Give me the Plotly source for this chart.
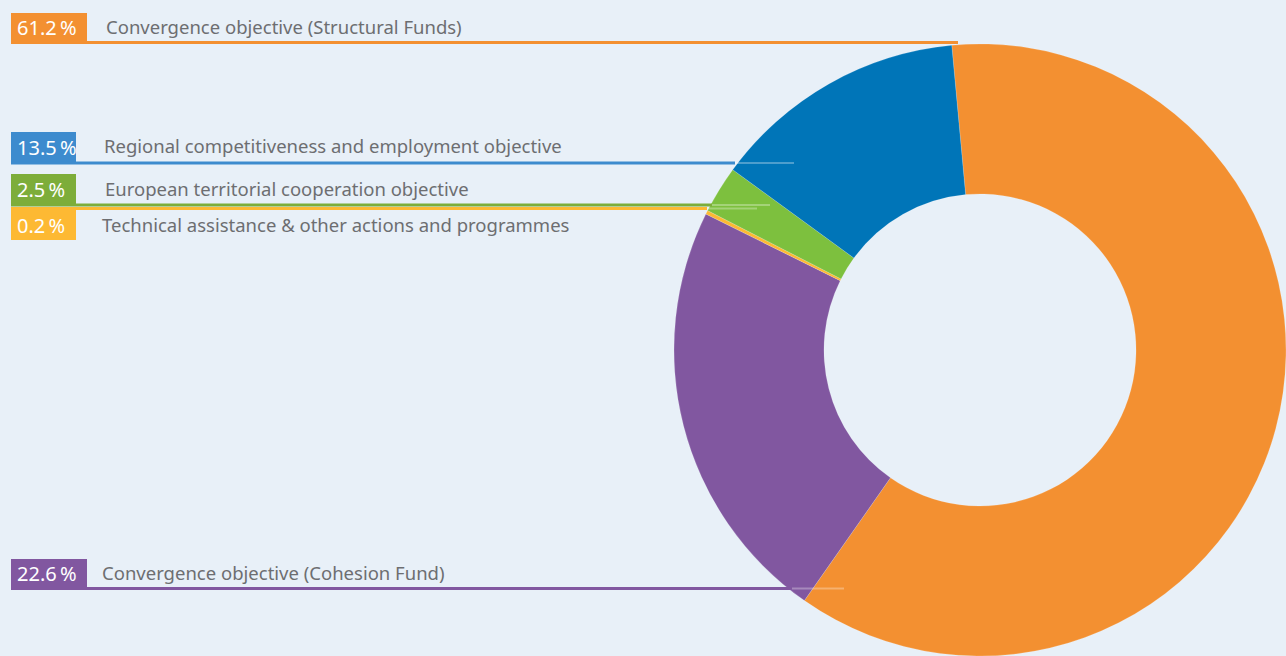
import plotly.graph_objects as go

# ---- data (slice order, clockwise from top) ----
categories = [
    "Convergence objective (Structural Funds)",
    "Convergence objective (Cohesion Fund)",
    "Technical assistance & other actions and programmes",
    "European territorial cooperation objective",
    "Regional competitiveness and employment objective",
]
shares = [61.2, 22.6, 0.2, 2.5, 13.5]
pct_labels = ["61.2\u2009%", "22.6\u2009%", "0.2\u2009%", "2.5\u2009%", "13.5\u2009%"]
slice_colors = ["#F39031", "#8157A0", "#FDB933", "#7DC03E", "#0075B8"]
box_colors = ["#F39031", "#8157A0", "#FDB933", "#7DAD3A", "#3D8BCE"]

# ---- label layout (pixels) ----
W, H = 1286, 656
# per slice: box top, box bottom, box right, text x, line y, opaque end, faint end
label_layout = [
    (13, 42, 87, 106, 42.5, 958, 958),
    (559, 587, 87, 102, 588.5, 792, 844),
    (210, 240, 76, 102, 208.5, 707, 757),
    (174, 204, 76, 105, 205, 712, 770),
    (132, 162, 76, 104, 163, 735, 794),
]

BG = "#E8F0F8"
TXT = "#6D6E71"

fig = go.Figure()
fig.add_trace(go.Pie(
    labels=categories,
    values=shares,
    sort=False,
    direction="clockwise",
    rotation=-5.3,
    hole=0.51,
    marker=dict(colors=slice_colors, line=dict(color="rgba(255,255,255,0.25)", width=0.6)),
    textinfo="none",
    hoverinfo="label+percent",
    showlegend=False,
    domain=dict(x=[674 / W, 1.0], y=[0.0, 612 / H]),
))

def px(x):
    return x / W

def py(y):
    return 1 - y / H

shapes = []
annotations = []
for i, (y0, y1, xr, tx, ly, xe, xf) in enumerate(label_layout):
    col = box_colors[i]
    shapes.append(dict(type="rect", xref="paper", yref="paper",
                       x0=px(11), x1=px(xr), y0=py(y1), y1=py(y0),
                       fillcolor=col, line=dict(width=0), layer="above"))
    shapes.append(dict(type="line", xref="paper", yref="paper",
                       x0=px(11), x1=px(xe), y0=py(ly), y1=py(ly),
                       line=dict(color=col, width=3), layer="above"))
    if xf > xe:
        shapes.append(dict(type="line", xref="paper", yref="paper",
                           x0=px(xe), x1=px(xf), y0=py(ly), y1=py(ly),
                           line=dict(color="rgba(255,255,255,0.3)", width=2), layer="above"))
    yc = (y0 + y1) / 2
    annotations.append(dict(xref="paper", yref="paper", x=px(15), y=py(yc),
                            xanchor="left", yanchor="middle", showarrow=False,
                            text=pct_labels[i],
                            font=dict(family="Noto Sans", size=20, color="white")))
    annotations.append(dict(xref="paper", yref="paper", x=px(tx - 2), y=py(yc - 1),
                            xanchor="left", yanchor="middle", showarrow=False,
                            text=categories[i],
                            font=dict(family="Noto Sans", size=18.5, color=TXT)))

fig.update_layout(
    width=W, height=H,
    margin=dict(l=0, r=0, t=0, b=0),
    paper_bgcolor=BG, plot_bgcolor=BG,
    shapes=shapes, annotations=annotations,
)

fig.write_html(
    "out.html",
    config={"displayModeBar": False},
    post_script="document.body.style.margin='0';document.body.style.background='#E8F0F8';",
)
